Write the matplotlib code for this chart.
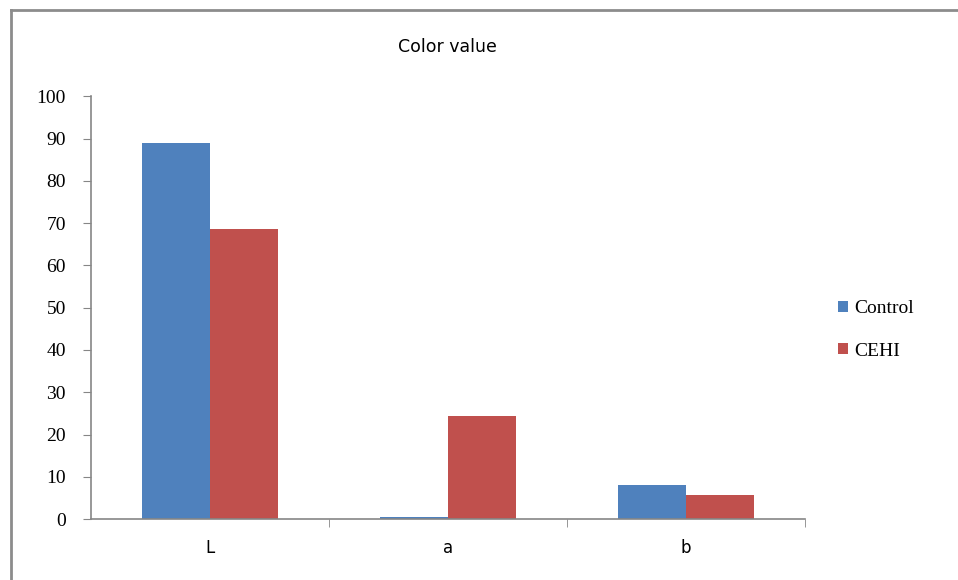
import numpy as np
import matplotlib.pyplot as plt
from matplotlib.lines import Line2D

categories = ["L", "a", "b"]
control = [89.0, 0.5, 8.0]
cehi = [68.7, 24.4, 5.6]
series_names = ["Control", "CEHI"]
y_ticks = [0, 10, 20, 30, 40, 50, 60, 70, 80, 90, 100]

blue = "#4F81BD"
red = "#C0504D"
axis_col = "#868686"

fig = plt.figure(figsize=(9.58, 5.80), dpi=100)
ax = fig.add_axes([0.095, 0.105, 0.745, 0.729])

x = np.arange(len(categories))
w = 0.286
ax.bar(x - w / 2, control, width=w, color=blue, label=series_names[0])
ax.bar(x + w / 2, cehi, width=w, color=red, label=series_names[1])

ax.set_xlim(-0.5, len(categories) - 0.5)
ax.set_ylim(0, 100)
ax.set_yticks(y_ticks)
ax.set_yticklabels([str(t) for t in y_ticks], family="Liberation Serif", fontsize=14)
ax.set_xticks(x)
ax.set_xticklabels(categories, family="DejaVu Sans", fontsize=12)
ax.tick_params(axis="x", length=0, pad=14)
ax.tick_params(axis="y", length=6, color=axis_col, direction="out", pad=12)
# minor ticks on the category boundaries
ax.set_xticks(np.arange(0.5, len(categories) - 0.4, 1.0), minor=True)
ax.tick_params(axis="x", which="minor", length=6, color=axis_col, direction="out")

for side in ["top", "right"]:
    ax.spines[side].set_visible(False)
for side in ["left", "bottom"]:
    ax.spines[side].set_color(axis_col)
    ax.spines[side].set_linewidth(1.2)

ax.set_title("Color value", family="DejaVu Sans", fontsize=12.5, pad=32)

leg = fig.legend(loc="center left", bbox_to_anchor=(0.875, 0.431), frameon=False,
                 prop={"family": "Liberation Serif", "size": 14},
                 handlelength=0.5, handleheight=0.5, handletextpad=0.3,
                 labelspacing=1.3, borderaxespad=0.0, borderpad=0.0)

# outer chart border (top and left visible)
fig.add_artist(Line2D([0.011, 1.0], [0.983, 0.983], color="#8c8c8c", lw=2.0,
                      transform=fig.transFigure))
fig.add_artist(Line2D([0.011, 0.011], [0.0, 0.983], color="#8c8c8c", lw=2.0,
                      transform=fig.transFigure))

fig.savefig("out.png", dpi=100)
